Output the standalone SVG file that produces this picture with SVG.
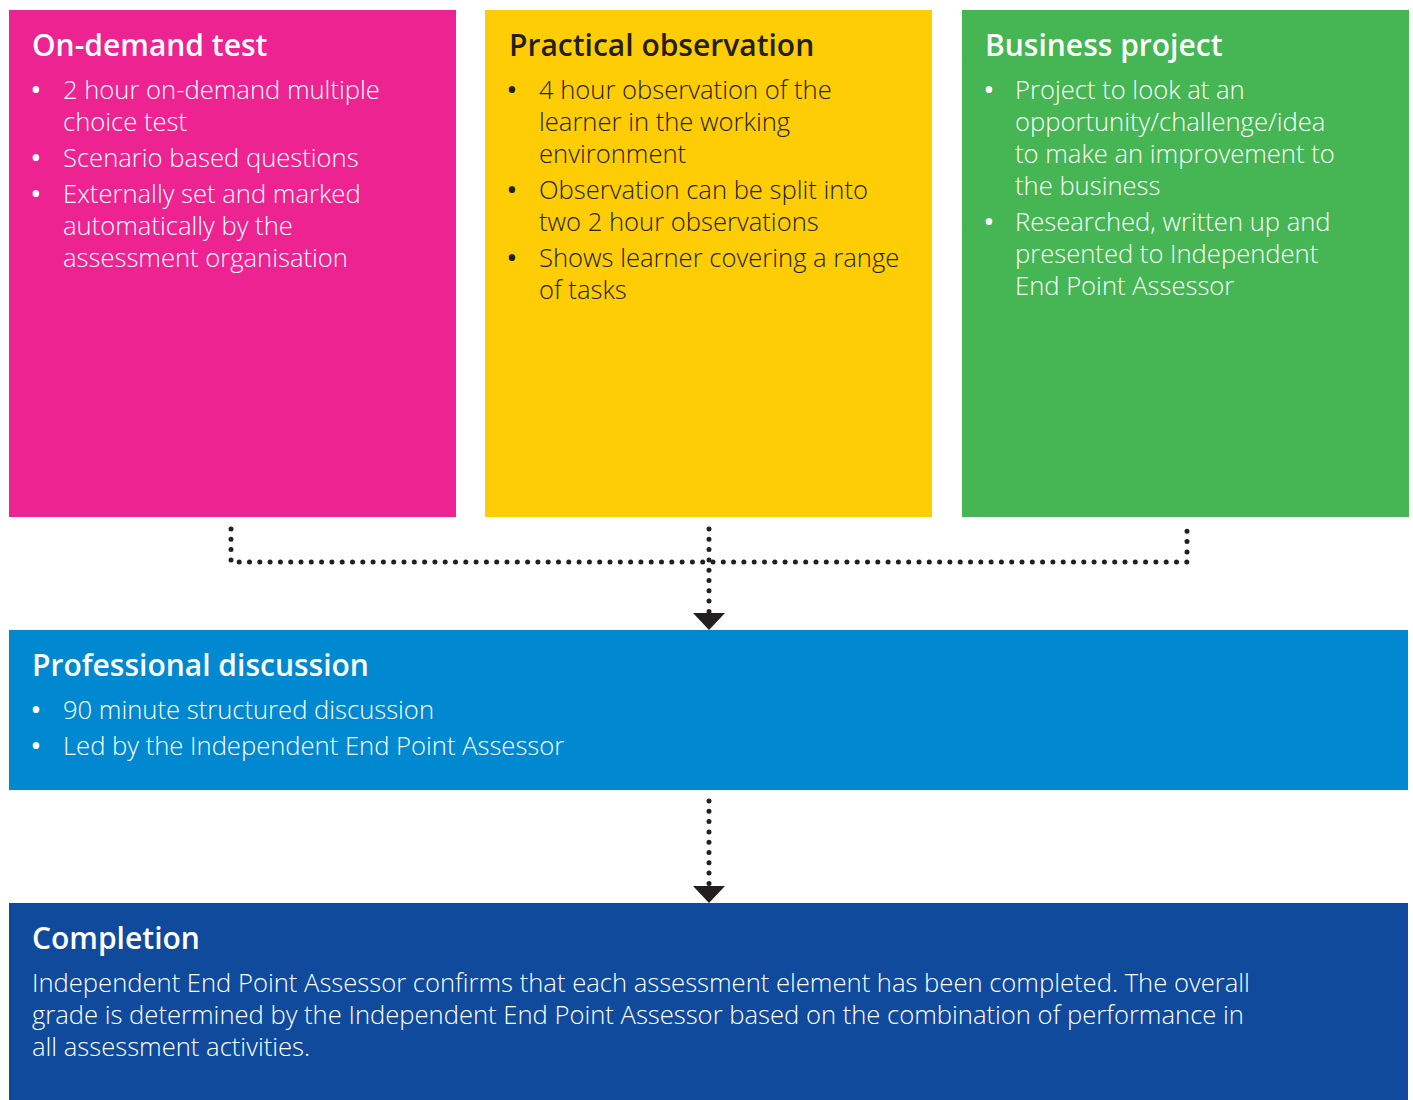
<svg xmlns="http://www.w3.org/2000/svg" width="1413" height="1100" viewBox="0 0 1413 1100">
<style>
.t{font-family:"Open Sans","Noto Sans","Liberation Sans",sans-serif;font-size:30px;font-weight:600}
.b{font-family:"Open Sans","Noto Sans","Liberation Sans",sans-serif;font-size:25.6px;font-weight:300}
.bl{font-family:"Open Sans","Noto Sans","Liberation Sans",sans-serif;font-size:26px;font-weight:600}
.w{fill:#ffffff}
.k{fill:#231f20}
.dot{fill:none;stroke:#231f20;stroke-width:5;stroke-linecap:round;stroke-dasharray:0 10.3}
</style>
<defs>
<marker id="arr" viewBox="0 0 17 32" refX="0" refY="16" markerWidth="17" markerHeight="32" markerUnits="userSpaceOnUse" orient="auto">
<path d="M0 0L17 16L0 32Z" fill="#231f20"/>
</marker>
</defs>
<rect width="1413" height="1100" fill="#ffffff"/>
<g id="ondemand">
<rect x="9" y="10" width="447" height="507" fill="#ec2390"/>
<text class="t w" x="32" y="56">On-demand test</text>
<g class="bl w">
<text x="31" y="99">•</text><text x="31" y="167">•</text><text x="31" y="203">•</text>
</g>
<g class="b w">
<text x="63" y="99">2 hour on-demand multiple</text>
<text x="63" y="131">choice test</text>
<text x="63" y="167">Scenario based questions</text>
<text x="63" y="203">Externally set and marked</text>
<text x="63" y="235">automatically by the</text>
<text x="63" y="267">assessment organisation</text>
</g>
</g>
<g id="practical">
<rect x="485" y="10" width="447" height="507" fill="#ffcd05"/>
<text class="t k" x="509" y="56">Practical observation</text>
<g class="bl k">
<text x="507" y="99">•</text><text x="507" y="199">•</text><text x="507" y="267">•</text>
</g>
<g class="b k">
<text x="539" y="99">4 hour observation of the</text>
<text x="539" y="131">learner in the working</text>
<text x="539" y="163">environment</text>
<text x="539" y="199">Observation can be split into</text>
<text x="539" y="231">two 2 hour observations</text>
<text x="539" y="267">Shows learner covering a range</text>
<text x="539" y="299">of tasks</text>
</g>
</g>
<g id="business">
<rect x="962" y="10" width="447" height="507" fill="#45b653"/>
<text class="t w" x="985" y="56">Business project</text>
<g class="bl w">
<text x="984" y="99">•</text><text x="984" y="231">•</text>
</g>
<g class="b w">
<text x="1015" y="99">Project to look at an</text>
<text x="1015" y="131">opportunity/challenge/idea</text>
<text x="1015" y="163">to make an improvement to</text>
<text x="1015" y="195">the business</text>
<text x="1015" y="231">Researched, written up and</text>
<text x="1015" y="263">presented to Independent</text>
<text x="1015" y="295">End Point Assessor</text>
</g>
</g>
<g id="discussion">
<rect x="9" y="630" width="1399" height="160" fill="#0089d0"/>
<text class="t w" x="32" y="676">Professional discussion</text>
<g class="bl w">
<text x="31" y="719">•</text><text x="31" y="755">•</text>
</g>
<g class="b w">
<text x="63" y="719">90 minute structured discussion</text>
<text x="63" y="755">Led by the Independent End Point Assessor</text>
</g>
</g>
<g id="completion">
<rect x="9" y="903" width="1399" height="197" fill="#0f4a9c"/>
<text class="t w" x="32" y="949">Completion</text>
<g class="b w">
<text x="32" y="992">Independent End Point Assessor confirms that each assessment element has been completed. The overall</text>
<text x="32" y="1024">grade is determined by the Independent End Point Assessor based on the combination of performance in</text>
<text x="32" y="1056">all assessment activities.</text>
</g>
</g>
<g id="connectors">
<path class="dot" d="M231 529V562H1187V529"/>
<path class="dot" d="M709 529V613" marker-end="url(#arr)"/>
<path class="dot" d="M709 801V886" marker-end="url(#arr)"/>
</g>
</svg>
